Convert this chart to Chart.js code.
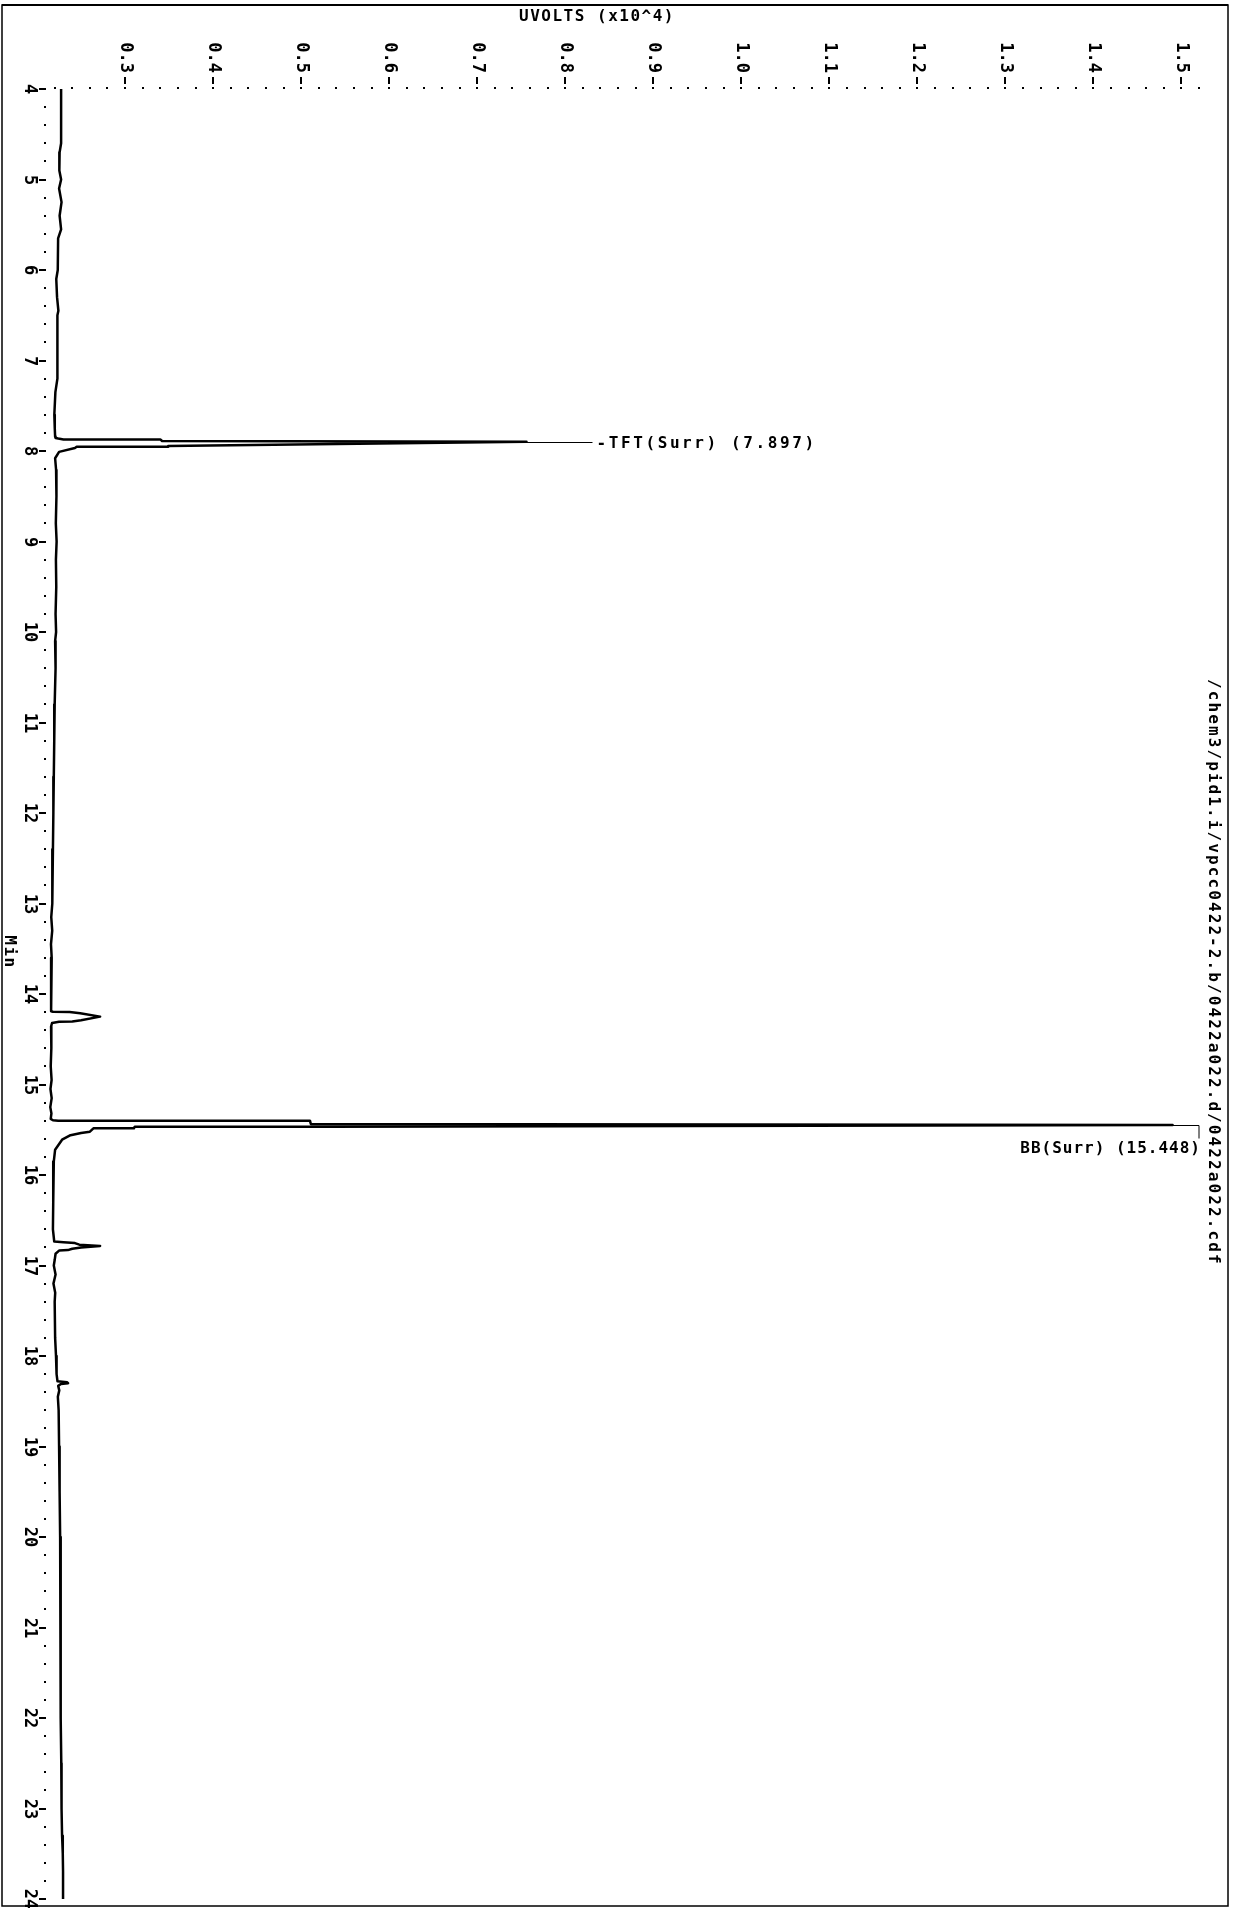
<!DOCTYPE html>
<html>
<head>
<meta charset="utf-8">
<script src="https://cdn.jsdelivr.net/npm/chart.js@4.4.1/dist/chart.umd.min.js"></script>
<style>
  html, body { margin: 0; padding: 0; background: #fff; }
  #wrap { width: 1233px; height: 1908px; }
</style>
</head>
<body>
<div id="wrap"><canvas id="chart" width="1233" height="1908"></canvas></div>
<script>
// retention time (min) and detector signal (UVOLTS x10^4)
const traceMin = [
  4.00, 4.60, 4.70, 4.90, 5.00, 5.10, 5.25, 5.40, 5.55, 5.65, 6.00, 6.10, 6.30, 6.45, 6.50,
  7.20, 7.35, 7.60, 7.75, 7.84, 7.856, 7.862, 7.872, 7.872, 7.889, 7.897, 7.945, 7.952, 7.953,
  7.967, 8.01, 8.08, 8.21, 8.50, 8.80, 9.00, 9.20, 9.50, 9.80, 10.00, 10.10, 10.40, 10.80,
  11.20, 11.60, 12.00, 12.40, 12.80, 13.00, 13.15, 13.30, 13.45, 13.60, 13.80, 14.00, 14.19,
  14.196, 14.200, 14.213, 14.250, 14.290, 14.305, 14.306, 14.320, 14.360, 14.60, 14.80, 14.95,
  15.05, 15.15, 15.25, 15.32, 15.38, 15.395, 15.400, 15.400, 15.436, 15.448, 15.466, 15.466,
  15.484, 15.484, 15.521, 15.535, 15.56, 15.61, 15.72, 15.85, 16.00, 16.30, 16.60, 16.735,
  16.742, 16.752, 16.770, 16.785, 16.800, 16.815, 16.830, 16.835, 16.870, 16.94, 17.00, 17.10,
  17.20, 17.30, 17.40, 17.80, 18.00, 18.10, 18.20, 18.28, 18.29, 18.30, 18.31, 18.33, 18.38,
  18.45, 18.60, 19.00, 19.50, 20.00, 20.50, 21.00, 21.50, 22.00, 22.50, 23.00, 23.30, 23.50,
  23.70, 24.00
]
const traceUv = [
  0.2273, 0.2273, 0.2256, 0.2253, 0.2273, 0.2250, 0.2278, 0.2256, 0.2273, 0.2239, 0.2235, 0.2218, 0.2227, 0.2242, 0.2231,
  0.2231, 0.2208, 0.2196, 0.2201, 0.2205, 0.2210, 0.2240, 0.2300, 0.3400, 0.3420, 0.7560, 0.3490, 0.3490, 0.2450,
  0.2430, 0.2250, 0.2205, 0.2216, 0.2220, 0.2213, 0.2222, 0.2214, 0.2218, 0.2210, 0.2216, 0.2205, 0.2210, 0.2200,
  0.2195, 0.2190, 0.2185, 0.2180, 0.2170, 0.2176, 0.2161, 0.2172, 0.2158, 0.2166, 0.2160, 0.2159, 0.2159,
  0.2180, 0.2370, 0.2490, 0.2716, 0.2500, 0.2400, 0.2250, 0.2170, 0.2159, 0.2162, 0.2155, 0.2165,
  0.2152, 0.2166, 0.2150, 0.2163, 0.2155, 0.2180, 0.2240, 0.5100, 0.5110, 1.4900, 0.5300, 0.3110,
  0.3100, 0.2640, 0.2600, 0.2500, 0.2380, 0.2284, 0.2205, 0.2190, 0.2182, 0.2185, 0.2180, 0.2195,
  0.2300, 0.2430, 0.2480, 0.2716, 0.2500, 0.2400, 0.2350, 0.2250, 0.2210, 0.2200, 0.2190, 0.2210,
  0.2186, 0.2206, 0.2200, 0.2205, 0.2215, 0.2225, 0.2218, 0.2232, 0.2340, 0.2352, 0.2270, 0.2240, 0.2252,
  0.2236, 0.2245, 0.2250, 0.2256, 0.2262, 0.2265, 0.2268, 0.2270, 0.2270, 0.2275, 0.2278, 0.2284, 0.2292,
  0.2295, 0.2295
]

const uvTicks = [0.3, 0.4, 0.5, 0.6, 0.7, 0.8, 0.9, 1.0, 1.1, 1.2, 1.3, 1.4, 1.5]
const minTicks = [4, 5, 6, 7, 8, 9, 10, 11, 12, 13, 14, 15, 16, 17, 18, 19, 20, 21, 22, 23, 24]

const peakNames = ["TFT(Surr)", "BB(Surr)"]
const peakTimes = [7.897, 15.448]
const peakUv = [0.756, 1.49]

const axisTitle = "UVOLTS (x10^4)"
const timeTitle = "Min"
const fileLabel = "/chem3/pid1.i/vpcc0422-2.b/0422a022.d/0422a022.cdf"

const FONT = 'bold 16px "DejaVu Sans Mono", monospace'
const TICK_FONT = 'bold 17px "DejaVu Sans Mono", monospace'

// draws the plotter style axes, labels and peak tags on top of the trace
const plotterDecor = {
  id: "plotterDecor",
  afterDraw(chart) {
    const ctx = chart.ctx
    const xs = chart.scales.x
    const ys = chart.scales.y
    const area = chart.chartArea
    ctx.save()
    ctx.fillStyle = "#000"
    ctx.strokeStyle = "#000"

    // page frame
    ctx.lineWidth = 1.5
    ctx.strokeRect(2, 5, 1226, 1901)
    ctx.fillRect(2, 4, 1226, 2)

    // dotted axes
    const axisY = area.top - 1
    for (let i = 0; i <= 65; i++) {
      const px = xs.getPixelForValue(0.22 + i * 0.02)
      ctx.fillRect(Math.round(px) - 1, axisY - 1, 2, 2)
    }
    for (let i = 0; i <= 100; i++) {
      const py = ys.getPixelForValue(4 + i * 0.2)
      ctx.fillRect(area.left - 1, Math.round(py) - 1, 2, 2)
    }

    ctx.font = TICK_FONT
    ctx.textBaseline = "middle"

    // uvolt ticks, labels turned a quarter clockwise
    uvTicks.forEach((t) => {
      const px = Math.round(xs.getPixelForValue(t))
      ctx.fillRect(px - 1, axisY - 11, 2, 7)
      ctx.save()
      ctx.translate(px, axisY - 15)
      ctx.rotate(Math.PI / 2)
      ctx.textAlign = "right"
      ctx.fillText(t.toFixed(1), 0, 0)
      ctx.restore()
    })

    // time ticks
    minTicks.forEach((t) => {
      const py = Math.round(ys.getPixelForValue(t))
      ctx.fillRect(area.left - 6, py - 1, 5, 2)
      ctx.save()
      ctx.translate(area.left - 16, py)
      ctx.rotate(Math.PI / 2)
      ctx.textAlign = "center"
      ctx.fillText(String(t), 0, 0)
      ctx.restore()
    })

    ctx.font = FONT

    // titles
    ctx.letterSpacing = "1.5px"
    ctx.textAlign = "center"
    ctx.fillText(axisTitle, 597, 17)

    ctx.save()
    ctx.translate(9, 952)
    ctx.rotate(Math.PI / 2)
    ctx.fillText(timeTitle, 0, 0)
    ctx.restore()

    ctx.letterSpacing = "2.1px"
    ctx.save()
    ctx.translate(1213, 679)
    ctx.rotate(Math.PI / 2)
    ctx.textAlign = "left"
    ctx.fillText(fileLabel, 0, 0)
    ctx.restore()

    // peak tags
    ctx.lineWidth = 1
    const tftY = Math.round(ys.getPixelForValue(peakTimes[0])) + 0.5
    const tftX = xs.getPixelForValue(peakUv[0])
    ctx.beginPath()
    ctx.moveTo(tftX, tftY)
    ctx.lineTo(tftX + 66, tftY)
    ctx.stroke()
    ctx.letterSpacing = "2.6px"
    ctx.textAlign = "left"
    ctx.fillText("-" + peakNames[0] + " (" + peakTimes[0].toFixed(3) + ")", tftX + 70, tftY + 1)

    const bbY = Math.round(ys.getPixelForValue(peakTimes[1])) + 0.5
    const bbX = xs.getPixelForValue(peakUv[1])
    ctx.beginPath()
    ctx.moveTo(bbX, bbY)
    ctx.lineTo(area.right, bbY)
    ctx.lineTo(area.right, bbY + 13)
    ctx.stroke()
    ctx.letterSpacing = "1px"
    ctx.textAlign = "right"
    ctx.fillText(peakNames[1] + " (" + peakTimes[1].toFixed(3) + ")", area.right + 2, bbY + 23)

    ctx.restore()
  },
}

new Chart(document.getElementById("chart"), {
  type: "scatter",
  data: {
    datasets: [
      {
        data: traceMin.map((m, i) => ({ x: traceUv[i], y: m })),
        showLine: true,
        borderColor: "#000",
        borderWidth: 2.5,
        borderJoinStyle: "round",
        pointRadius: 0,
        tension: 0,
      },
    ],
  },
  options: {
    responsive: false,
    devicePixelRatio: 1,
    animation: false,
    events: [],
    layout: { padding: { left: 45, right: 34, top: 89, bottom: 9 } },
    plugins: { legend: { display: false }, tooltip: { enabled: false } },
    scales: {
      x: { type: "linear", min: 0.209, max: 1.52, display: false },
      y: { type: "linear", min: 4, max: 24, reverse: true, display: false },
    },
  },
  plugins: [plotterDecor],
})
</script>
</body>
</html>
